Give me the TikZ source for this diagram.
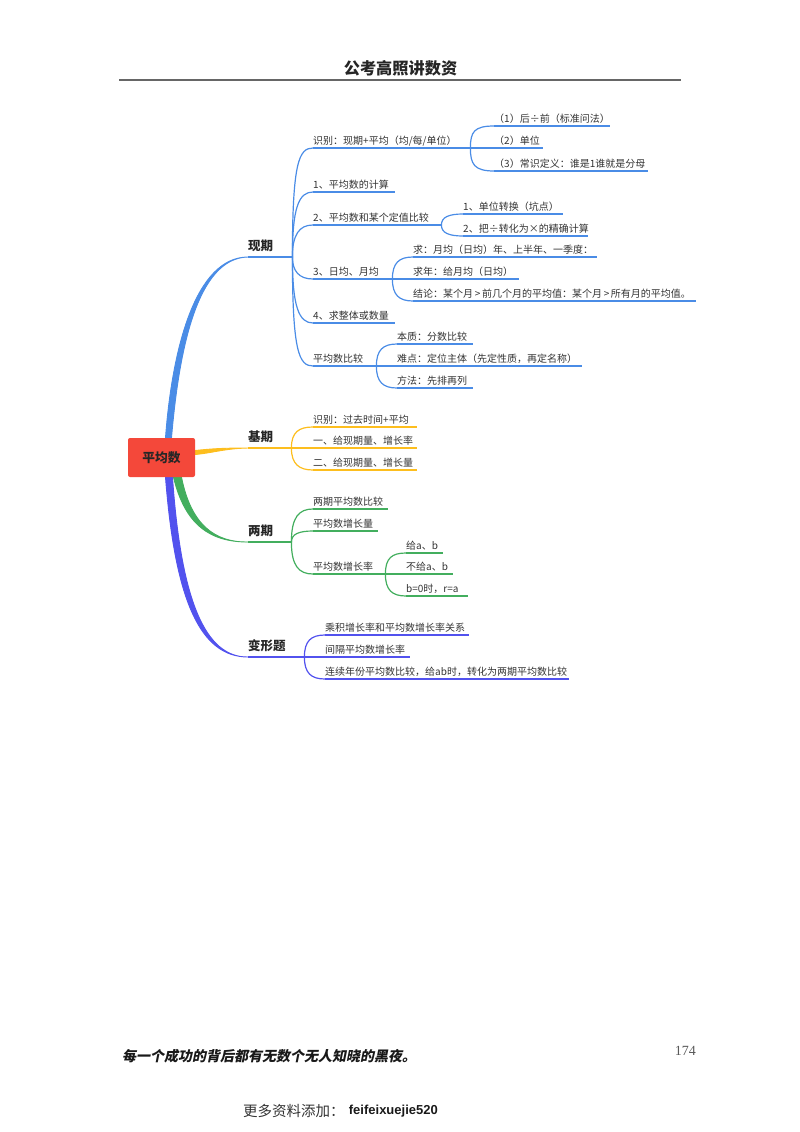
\documentclass[tikz,border=0pt]{standalone}
\usepackage{fontspec}
\setmainfont{Noto Sans CJK SC}
\newfontfamily\slantcjk[FakeSlant=0.2]{Noto Sans CJK SC}
\newfontfamily\pagefont{Liberation Serif}
\newfontfamily\tagfont{Liberation Sans}
\usetikzlibrary{calc,backgrounds}
% full-width punctuation
\newcommand{\zc}{\char"FF1A\relax}
\newcommand{\zl}{\char"FF08\relax}
\newcommand{\zr}{\char"FF09\relax}
\newcommand{\zd}{\char"FF0C\relax}
\definecolor{inkgray}{HTML}{333333}
\definecolor{rootred}{HTML}{F4483A}
\definecolor{xqblue}{HTML}{4A8CE6}
\definecolor{jqyellow}{HTML}{FDBE1E}
\definecolor{lqgreen}{HTML}{43AE5E}
\definecolor{bxpurple}{HTML}{5252EE}
\tikzset{
	leaf/.style={anchor=south west,inner xsep=0pt,inner ysep=2pt,text depth=1pt,align=left,font=\fontsize{10}{12}\selectfont,text=inkgray},
	topic/.style={leaf,inner ysep=5pt,font=\fontsize{12.5}{14}\selectfont\bfseries,text=black!85},
	rootbox/.style={fill=rootred,rounded corners=2pt,minimum width=67pt,minimum height=39pt,inner sep=0pt,font=\fontsize{12.7}{14}\selectfont\bfseries,text=black!85},
	arcup/.style={out=90,in=180,out distance=#1,in distance=14pt},
	arcup/.default=16pt,
	arcdown/.style={out=-90,in=180,out distance=#1,in distance=14pt},
	arcdown/.default=16pt,
	thinline/.style={line width=1.2pt},
	trunk/.style={line width=.9pt,line join=round}
}
\begin{document}
\begin{tikzpicture}[x=1pt,y=-1pt]
	\useasboundingbox (0,0) rectangle (800,1132);
	% page furniture
	\node[inner sep=0pt,font=\fontsize{16.2}{18}\selectfont\bfseries,text=black!85] (title) at (400.5,68) {公考高照讲数资};
	\coordinate (ruleL) at (119,80);
	\coordinate (ruleR) at (681,80);
	\draw[line width=1.2pt,black!60] (ruleL) -- (ruleR);
	\node[anchor=west,inner sep=0pt,font=\fontsize{14}{16}\selectfont\slantcjk\bfseries,text=black!90] (motto) at (122,1056) {每一个成功的背后都有无数个无人知晓的黑夜。};
	\node[anchor=east,inner sep=0pt,font=\fontsize{14}{16}\selectfont\pagefont,text=black!65] (pageno) at (696,1051) {174};
	\node[anchor=west,inner sep=0pt,font=\fontsize{14.5}{16}\selectfont,text=inkgray] (more) at (243,1111) {更多资料添加\zc};
	\node[anchor=east,inner sep=0pt,font=\fontsize{13}{15}\selectfont\tagfont\bfseries,text=black!90] (wechat) at (438,1111) {feifeixuejie520};
	% root
	\node[rootbox] (root) at (161.5,457.5) {平均数};
	% topics
	\node[topic,text width=44pt] (xq) at (248,257) {现期};
	\node[topic,text width=43pt] (jq) at (248,448) {基期};
	\node[topic,text width=43pt] (lq) at (248,542) {两期};
	\node[topic,text width=56pt] (bx) at (248,657) {变形题};
	% xianqi
	\node[leaf,text width=157pt] (a1) at (313,148) {识别\zc 现期+平均\zl 均/每/单位\zr};
	\node[leaf,text width=116pt] (a11) at (494,126) {\zl 1\zr 后÷前\zl 标准问法\zr};
	\node[leaf,text width=49pt] (a12) at (494,148) {\zl 2\zr 单位};
	\node[leaf,text width=154pt] (a13) at (494,171) {\zl 3\zr 常识定义\zc 谁是1谁就是分母};
	\node[leaf,text width=82pt] (a2) at (313,192) {1、平均数的计算};
	\node[leaf,text width=128pt] (a3) at (313,225) {2、平均数和某个定值比较};
	\node[leaf,text width=100pt] (a31) at (463,214) {1、单位转换\zl 坑点\zr};
	\node[leaf,text width=125pt] (a32) at (463,236) {2、把÷转化为×的精确计算};
	\node[leaf,text width=79pt] (a4) at (313,279) {3、日均、月均};
	\node[leaf,text width=184pt] (a41) at (413,257) {求\zc 月均\zl 日均\zr 年、上半年、一季度\zc};
	\node[leaf,text width=106pt] (a42) at (413,279) {求年\zc 给月均\zl 日均\zr};
	\node[leaf,text width=283pt] (a43) at (413,301) {结论\zc 某个月\,>\,前几个月的平均值\zc 某个月\,>\,所有月的平均值。};
	\node[leaf,text width=82pt] (a5) at (313,323) {4、求整体或数量};
	\node[leaf,text width=63pt] (a6) at (313,366) {平均数比较};
	\node[leaf,text width=76pt] (a61) at (397,344) {本质\zc 分数比较};
	\node[leaf,text width=185pt] (a62) at (397,366) {难点\zc 定位主体\zl 先定性质\zd 再定名称\zr};
	\node[leaf,text width=76pt] (a63) at (397,388) {方法\zc 先排再列};
	% jiqi
	\node[leaf,text width=104pt] (b1) at (313,427) {识别\zc 过去时间+平均};
	\node[leaf,text width=104pt] (b2) at (313,448) {一、给现期量、增长率};
	\node[leaf,text width=104pt] (b3) at (313,470) {二、给现期量、增长量};
	% liangqi
	\node[leaf,text width=75pt] (c1) at (313,509) {两期平均数比较};
	\node[leaf,text width=65pt] (c2) at (313,531) {平均数增长量};
	\node[leaf,text width=72pt] (c3) at (313,574) {平均数增长率};
	\node[leaf,text width=37pt] (c31) at (406,553) {给a、b};
	\node[leaf,text width=47pt] (c32) at (406,574) {不给a、b};
	\node[leaf,text width=62pt] (c33) at (406,596) {b=0时\zd r=a};
	% bianxing
	\node[leaf,text width=144pt] (d1) at (325,635) {乘积增长率和平均数增长率关系};
	\node[leaf,text width=85pt] (d2) at (325,657) {间隔平均数增长率};
	\node[leaf,text width=244pt] (d3) at (325,679) {连续年份平均数比较\zd 给ab时\zd 转化为两期平均数比较};
	%
	\begin{scope}[on background layer]
		\filldraw[trunk,xqblue] ($(root.north)+(4,0)$) .. controls (172,350) and (195,257) .. (xq.south west) .. controls (197,258) and (179,350) .. ($(root.north)+(10,0)$) -- cycle;
		\filldraw[trunk,jqyellow] ($(root.east)+(0,-7)$) .. controls (210,449) and (220,448) .. (jq.south west) .. controls (225,448.5) and (212,453) .. ($(root.east)+(0,-3)$) -- cycle;
		\filldraw[trunk,lqgreen] ($(root.south)+(12,0)$) .. controls (185,525) and (210,542) .. (lq.south west) .. controls (215,542.5) and (191,525) .. ($(root.south)+(20,0)$) -- cycle;
		\filldraw[trunk,bxpurple] ($(root.south)+(4,0)$) .. controls (175,600) and (200,657) .. (bx.south west) .. controls (205,657.5) and (181,600) .. ($(root.south)+(11,0)$) -- cycle;
	\end{scope}
	%
	\path[thinline,xqblue]
	(xq.south west) edge (xq.south east)
	(xq.south east) edge[arcup=95pt] (a1.south west)
	(xq.south east) edge[arcup=50pt] (a2.south west)
	(xq.south east) edge[arcup=22pt] (a3.south west)
	(xq.south east) edge[arcdown=14pt] (a4.south west)
	(xq.south east) edge[arcdown=50pt] (a5.south west)
	(xq.south east) edge[arcdown=95pt] (a6.south west)
	(a1.south east) edge[arcup,in distance=20pt] (a11.south west)
	(a1.south east) edge (a12.south west)
	(a1.south east) edge[arcdown,in distance=20pt] (a13.south west)
	(a3.south east) edge[arcup=8pt] (a31.south west)
	(a3.south east) edge[arcdown=8pt] (a32.south west)
	(a4.south east) edge[arcup] (a41.south west)
	(a4.south east) edge (a42.south west)
	(a4.south east) edge[arcdown] (a43.south west)
	(a6.south east) edge[arcup] (a61.south west)
	(a6.south east) edge (a62.south west)
	(a6.south east) edge[arcdown] (a63.south west);
	\path[thinline,jqyellow]
	(jq.south west) edge (jq.south east)
	(jq.south east) edge[arcup] (b1.south west)
	(jq.south east) edge (b2.south west)
	(jq.south east) edge[arcdown] (b3.south west);
	\path[thinline,lqgreen]
	(lq.south west) edge (lq.south east)
	(lq.south east) edge[arcup=25pt] (c1.south west)
	(lq.south east) edge[arcup=8pt] (c2.south west)
	(lq.south east) edge[arcdown=24pt] (c3.south west)
	(c3.south east) edge[arcup] (c31.south west)
	(c3.south east) edge (c32.south west)
	(c3.south east) edge[arcdown] (c33.south west);
	\path[thinline,bxpurple]
	(bx.south west) edge (bx.south east)
	(bx.south east) edge[arcup] (d1.south west)
	(bx.south east) edge (d2.south west)
	(bx.south east) edge[arcdown] (d3.south west);
	% underlines
	\foreach \n in {a1,a11,a12,a13,a2,a3,a31,a32,a4,a41,a42,a43,a5,a6,a61,a62,a63}
	\path[thinline,xqblue] (\n.south west) edge (\n.south east);
	\foreach \n in {b1,b2,b3}
	\path[thinline,jqyellow] (\n.south west) edge (\n.south east);
	\foreach \n in {c1,c2,c3,c31,c32,c33}
	\path[thinline,lqgreen] (\n.south west) edge (\n.south east);
	\foreach \n in {d1,d2,d3}
	\path[thinline,bxpurple] (\n.south west) edge (\n.south east);
\end{tikzpicture}
\end{document}
